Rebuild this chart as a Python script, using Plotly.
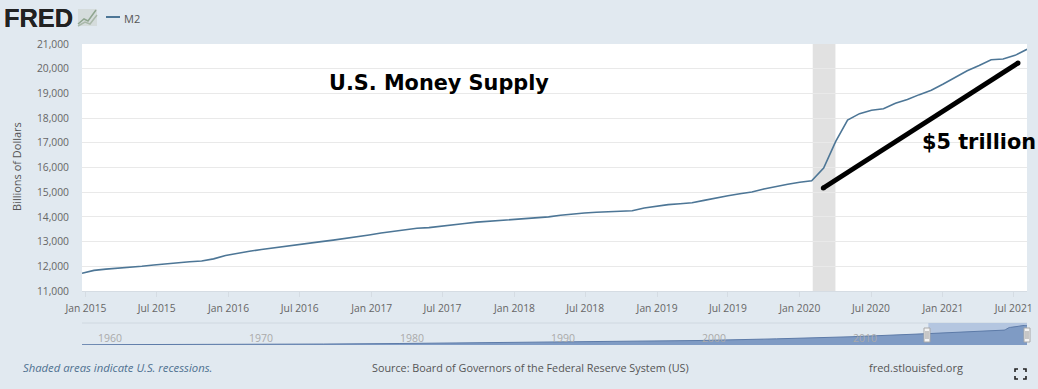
import pandas as pd
import plotly.graph_objects as go

W, H = 1038, 389

m2_values = [
    11716, 11835, 11885, 11915, 11950, 12000, 12050, 12100, 12150, 12185, 12215, 12300,
    12440, 12540, 12610, 12680, 12750, 12820, 12870, 12940, 13000, 13060, 13140, 13210,
    13270, 13350, 13420, 13500, 13540, 13565, 13630, 13680, 13730, 13790, 13820, 13860,
    13880, 13910, 13970, 14000, 14070, 14130, 14160, 14190, 14215, 14235, 14250, 14360,
    14430, 14495, 14535, 14570, 14670, 14775, 14855, 14940, 15010, 15130, 15240, 15320,
    15400, 15460, 15980, 17045, 17920, 18180, 18320, 18380, 18600, 18750, 18950, 19130,
    19380, 19650, 19920, 20130, 20360, 20390, 20540, 20785,
]
m2_start, m2_end = "2014-12-22", "2021-08-04"
m2_dates = pd.date_range(m2_start, m2_end, periods=len(m2_values))

history_dates = ["1959-01-01", "1960-01-01", "1965-01-01", "1970-01-01", "1975-01-01", "1980-01-01",
                 "1985-01-01", "1990-01-01", "1995-01-01", "2000-01-01", "2005-01-01", "2010-01-01"]
history_values = [286, 300, 460, 600, 1000, 1550, 2400, 3200, 3600, 4700, 6400, 8600]

trend_dates = ["2020-03-01", "2021-07-12"]
trend_values = [15170, 20230]

recession = ["2020-02-03", "2020-04-01"]
nav_start = "1959-01-01"
nav_labels = ["1960", "1970", "1980", "1990", "2000", "2010"]

y_ticks = list(range(11000, 21001, 1000))
x_tick_dates = ["2015-01-01", "2015-07-01", "2016-01-01", "2016-07-01", "2017-01-01", "2017-07-01",
                "2018-01-01", "2018-07-01", "2019-01-01", "2019-07-01", "2020-01-01", "2020-07-01",
                "2021-01-01", "2021-07-01"]
x_tick_text = ["Jan 2015", "Jul 2015", "Jan 2016", "Jul 2016", "Jan 2017", "Jul 2017", "Jan 2018",
               "Jul 2018", "Jan 2019", "Jul 2019", "Jan 2020", "Jul 2020", "Jan 2021", "Jul 2021"]

FONT = "Open Sans"
BG = "#e1e9f0"


def px(x):
    return x / W


def py(y):
    return 1 - y / H


fig = go.Figure()

# navigator
fig.add_trace(go.Scatter(
    x=pd.to_datetime(history_dates).append(m2_dates[1:]), y=history_values + m2_values[1:],
    xaxis="x2", yaxis="y2", mode="lines", fill="tozeroy", fillcolor="#7f9bc4",
    line=dict(color="#5d7ba8", width=1), showlegend=False, hoverinfo="skip"))
# main
fig.add_trace(go.Scatter(x=m2_dates, y=m2_values, name="M2", mode="lines",
                         line=dict(color="#4d7696", width=1.6), showlegend=False))
fig.add_trace(go.Scatter(x=trend_dates, y=trend_values, mode="lines+markers",
                         line=dict(color="black", width=5), marker=dict(color="black", size=5),
                         showlegend=False, hoverinfo="skip", cliponaxis=False))

shapes = [
    dict(type="rect", xref="paper", yref="paper", x0=px(82), x1=px(1027), y0=py(291), y1=py(44),
         fillcolor="white", line_width=0, layer="below"),
    dict(type="rect", xref="x", yref="paper", x0=recession[0], x1=recession[1], y0=py(291), y1=py(44),
         fillcolor="#e1e1e1", line_width=0, layer="between"),
    # navigator top line, selection band
    dict(type="line", xref="paper", yref="paper", x0=px(82), x1=px(1027), y0=py(323), y1=py(323),
         line=dict(color="#cfd8e0", width=1), layer="below"),
    dict(type="rect", xref="x2", yref="paper", x0=m2_dates[1], x1=m2_end, y0=py(345), y1=py(323),
         fillcolor="#b4c6e0", line_width=0, layer="below"),
    # legend sample
    dict(type="line", xref="paper", yref="paper", x0=px(106), x1=px(120), y0=py(17), y1=py(17),
         line=dict(color="#4d7696", width=2)),
    # logo mini chart
    dict(type="rect", xref="paper", yref="paper", x0=px(78), x1=px(97), y0=py(26), y1=py(9),
         fillcolor="#d5dcdc", line_width=0),
    dict(type="path", xref="paper", yref="paper",
         path=f"M {px(78)} {py(24)} L {px(84)} {py(19)} L {px(88)} {py(21)} L {px(96)} {py(10)}",
         line=dict(color="#8fa58f", width=1.5)),
    dict(type="path", xref="paper", yref="paper",
         path=f"M {px(78)} {py(26)} L {px(85)} {py(22)} L {px(90)} {py(24)} L {px(97)} {py(15)}",
         line=dict(color="#a9b8a9", width=1.5)),
]
# navigator handles
for hx in (927, 1027):
    shapes.append(dict(type="rect", xref="paper", yref="paper", x0=px(hx - 3), x1=px(hx + 3), y0=py(342), y1=py(328),
                       fillcolor="#f4f4f4", line=dict(color="#a8a8a8", width=1)))
    shapes.append(dict(type="line", xref="paper", yref="paper", x0=px(hx - 1), x1=px(hx - 1), y0=py(339), y1=py(331),
                       line=dict(color="#999", width=1)))
    shapes.append(dict(type="line", xref="paper", yref="paper", x0=px(hx + 1), x1=px(hx + 1), y0=py(339), y1=py(331),
                       line=dict(color="#999", width=1)))
# fullscreen icon
for cx, cy, dx, dy in ((1015, 369, 1, 1), (1026, 369, -1, 1), (1015, 379, 1, -1), (1026, 379, -1, -1)):
    shapes.append(dict(type="path", xref="paper", yref="paper",
                       path=f"M {px(cx + 3 * dx)} {py(cy)} L {px(cx)} {py(cy)} L {px(cx)} {py(cy + 3 * dy)}",
                       line=dict(color="#222", width=1.6)))


def note(text, x, y, size=11, color="#555", anchor="left", **kw):
    font = dict(family=kw.pop("family", FONT), size=size, color=color)
    if "style" in kw:
        font["style"] = kw.pop("style")
    return dict(text=text, xref="paper", yref="paper", x=px(x), y=py(y), xanchor=anchor, yanchor="middle",
                showarrow=False, font=font, borderpad=0, **kw)


annotations = [
    note("<b>FRED</b>", 2.6, 18, size=25.4, color="#222", family="Liberation Sans"),
    note("<b>FRED</b>", 3.3, 18, size=25.4, color="#222", family="Liberation Sans"),
    note("M2", 123, 18, size=11, color="#555"),
    note("Billions of Dollars", 16, 167, size=11, color="#555", anchor="center", textangle=-90),
    note("<b>U.S. Money Supply</b>", 328, 83, size=20.8, color="black", family="DejaVu Sans"),
    note("<b>$5 trillion</b>", 921, 142, size=20.8, color="black", family="DejaVu Sans"),
    note("Shaded areas indicate U.S. recessions.", 22, 367, size=11.3, color="#4f7191", style="italic"),
    note("Source: Board of Governors of the Federal Reserve System (US)", 530.5, 367, size=10.8, color="#555", anchor="center"),
    note("fred.stlouisfed.org", 916, 367, size=11, color="#555", anchor="center"),
]
for lab in nav_labels:
    annotations.append(dict(text=lab, xref="x2", yref="paper", x=f"{lab}-01-01", y=py(338), xanchor="left", xshift=-1,
                            yanchor="middle", showarrow=False, font=dict(family=FONT, size=10.5, color="#aaa")))

fig.update_layout(
    width=W, height=H, autosize=False, margin=dict(l=0, r=0, t=0, b=0),
    paper_bgcolor=BG, plot_bgcolor="rgba(0,0,0,0)", showlegend=False,
    font=dict(family=FONT, size=11, color="#666"),
    shapes=shapes, annotations=annotations, hovermode="x",
    xaxis=dict(domain=[px(82), px(1027)], anchor="y", type="date", range=[m2_start, m2_end], automargin=False,
               tickmode="array", tickvals=x_tick_dates, ticktext=x_tick_text, showgrid=False,
               ticks="outside", ticklen=5, tickcolor="#d5dce3", tickwidth=1,
               showline=True, linecolor="#d5dce3", linewidth=1, zeroline=False,
               tickfont=dict(family=FONT, size=10.3, color="#666"), ticklabelstandoff=3),
    yaxis=dict(domain=[py(291), py(44)], anchor="x", range=[11000, 21000], tickmode="array", tickvals=y_ticks,
               tickformat=",", showgrid=True, gridcolor="#e9e9e9", gridwidth=1, zeroline=False, automargin=False,
               tickfont=dict(family=FONT, size=10.3, color="#666"), ticklabelstandoff=12),
    xaxis2=dict(domain=[px(82), px(1027)], anchor="y2", type="date", range=[nav_start, m2_end], visible=False,
                automargin=False),
    yaxis2=dict(domain=[py(345), py(325)], anchor="x2", range=[0, max(m2_values)], visible=False, automargin=False),
)

fig.write_html("out.html", config={"displayModeBar": False},
               post_script="document.body.style.margin='0';document.body.style.overflow='hidden';")
